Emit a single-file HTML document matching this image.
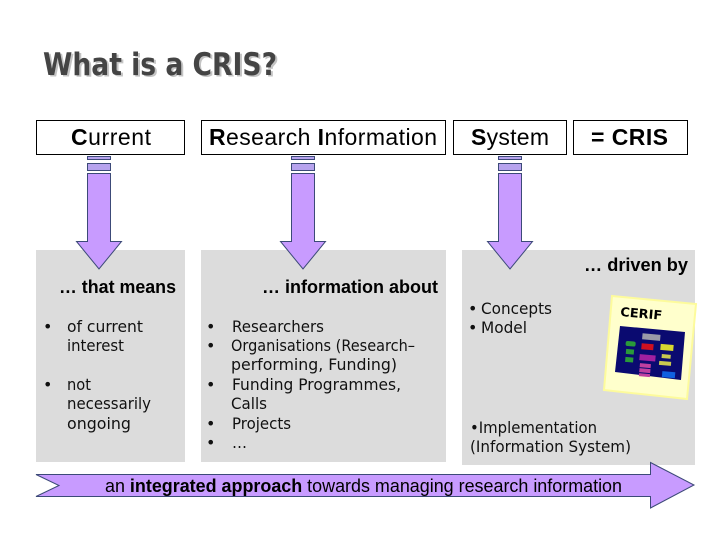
<!DOCTYPE html>
<html lang="en">
<head>
<meta charset="utf-8">
<title>What is a CRIS?</title>
<style>
html,body{margin:0;padding:0;background:#fff;width:720px;height:540px;overflow:hidden}
svg{display:block;filter:blur(.3px)}
.sans{font-family:"Liberation Sans",Arial,sans-serif;fill:#000}
.dv{font-family:"DejaVu Sans",Verdana,sans-serif;font-size:16px;fill:#111}
.box{fill:#fff;stroke:#000;stroke-width:1}
.arr{fill:#c89bff;stroke:#3c4a78;stroke-width:1}
.bar{fill:#b7a3ee;stroke:#3c4a78;stroke-width:1}
.grey{fill:#dcdcdc}
</style>
</head>
<body>
<svg width="720" height="540" viewBox="0 0 720 540" xmlns="http://www.w3.org/2000/svg">
<rect width="720" height="540" fill="#fff"/>

<!-- Title -->
<text x="45" y="76.5" font-family="'DejaVu Sans',Verdana,sans-serif" font-weight="bold" font-size="31" fill="#c4c4c4" textLength="234" lengthAdjust="spacingAndGlyphs">What is a CRIS?</text>
<text x="43" y="75" font-family="'DejaVu Sans',Verdana,sans-serif" font-weight="bold" font-size="31" fill="#444" textLength="234" lengthAdjust="spacingAndGlyphs">What is a CRIS?</text>

<!-- Grey panels -->
<rect class="grey" x="36" y="250" width="149" height="212"/>
<rect class="grey" x="201" y="250" width="245" height="212"/>
<rect class="grey" x="462" y="250" width="233" height="215"/>

<!-- Top boxes -->
<rect class="box" x="36.5" y="120.5" width="148" height="34"/>
<rect class="box" x="201.5" y="120.5" width="244" height="34"/>
<rect class="box" x="453.5" y="120.5" width="113" height="34"/>
<rect class="box" x="573.5" y="120.5" width="114" height="34"/>
<text class="sans" x="71" y="145" font-size="23" textLength="80"><tspan font-weight="bold">C</tspan>urrent</text>
<text class="sans" x="209" y="145" font-size="23" textLength="228"><tspan font-weight="bold">R</tspan>esearch <tspan font-weight="bold">I</tspan>nformation</text>
<text class="sans" x="471" y="145" font-size="23" textLength="78"><tspan font-weight="bold">S</tspan>ystem</text>
<text class="sans" x="591" y="145" font-size="23" font-weight="bold" textLength="77">= CRIS</text>

<!-- Down arrows -->
<g>
<rect class="bar" x="87.5" y="156.5" width="23" height="3"/>
<rect class="bar" x="87.5" y="163.5" width="23" height="7"/>
<polygon class="arr" points="87.5,173.5 110.5,173.5 110.5,241.5 121.5,241.5 99,269 76.5,241.5 87.5,241.5"/>
</g>
<g>
<rect class="bar" x="291.5" y="156.5" width="23" height="3"/>
<rect class="bar" x="291.5" y="163.5" width="23" height="7"/>
<polygon class="arr" points="291.5,173.5 314.5,173.5 314.5,241.5 325.5,241.5 303,269 280.5,241.5 291.5,241.5"/>
</g>
<g>
<rect class="bar" x="498.5" y="156.5" width="23" height="3"/>
<rect class="bar" x="498.5" y="163.5" width="23" height="7"/>
<polygon class="arr" points="498.5,173.5 521.5,173.5 521.5,241.5 532.5,241.5 510,269 487.5,241.5 498.5,241.5"/>
</g>

<!-- Panel headers -->
<text class="sans" x="59" y="293" font-size="18" font-weight="bold" textLength="117" lengthAdjust="spacingAndGlyphs">… that means</text>
<text class="sans" x="262" y="293" font-size="18" font-weight="bold" textLength="176" lengthAdjust="spacingAndGlyphs">… information about</text>
<text class="sans" x="584" y="271" font-size="18" font-weight="bold" textLength="104" lengthAdjust="spacingAndGlyphs">… driven by</text>

<!-- Column 1 -->
<text class="dv" x="43" y="332">•</text>
<text class="dv" x="67" y="332" textLength="76" lengthAdjust="spacingAndGlyphs">of current</text>
<text class="dv" x="67" y="351" textLength="57" lengthAdjust="spacingAndGlyphs">interest</text>
<text class="dv" x="43" y="390">•</text>
<text class="dv" x="67" y="390" textLength="24" lengthAdjust="spacingAndGlyphs">not</text>
<text class="dv" x="67" y="409" textLength="84" lengthAdjust="spacingAndGlyphs">necessarily</text>
<text class="dv" x="67" y="429" textLength="64" lengthAdjust="spacingAndGlyphs">ongoing</text>

<!-- Column 2 -->
<text class="dv" x="206" y="332">•</text>
<text class="dv" x="232" y="332" textLength="92" lengthAdjust="spacingAndGlyphs">Researchers</text>
<text class="dv" x="206" y="351">•</text>
<text class="dv" x="231" y="351" textLength="184" lengthAdjust="spacingAndGlyphs">Organisations (Research–</text>
<text class="dv" x="231" y="370" textLength="166" lengthAdjust="spacingAndGlyphs">performing, Funding)</text>
<text class="dv" x="206" y="390">•</text>
<text class="dv" x="232" y="390" textLength="169" lengthAdjust="spacingAndGlyphs">Funding Programmes,</text>
<text class="dv" x="231" y="409" textLength="36" lengthAdjust="spacingAndGlyphs">Calls</text>
<text class="dv" x="206" y="429">•</text>
<text class="dv" x="232" y="429" textLength="59" lengthAdjust="spacingAndGlyphs">Projects</text>
<text class="dv" x="206" y="448">•</text>
<text class="dv" x="232" y="448" textLength="15" lengthAdjust="spacingAndGlyphs">…</text>

<!-- Column 3 -->
<text class="dv" x="468" y="314">•</text>
<text class="dv" x="481" y="314" textLength="71" lengthAdjust="spacingAndGlyphs">Concepts</text>
<text class="dv" x="468" y="333">•</text>
<text class="dv" x="481" y="333" textLength="46" lengthAdjust="spacingAndGlyphs">Model</text>
<text class="dv" x="470" y="433" textLength="127" lengthAdjust="spacingAndGlyphs">•Implementation</text>
<text class="dv" x="470" y="452" textLength="161" lengthAdjust="spacingAndGlyphs">(Information System)</text>

<!-- CERIF card -->
<polygon points="612,296 696,304 687,399 604,390" fill="#ffffcc" stroke="#fdfb9c" stroke-width="2"/>
<text transform="translate(620,316) rotate(5)" font-family="'DejaVu Sans',Verdana,sans-serif" font-weight="bold" font-size="12.5" fill="#000" textLength="42" lengthAdjust="spacingAndGlyphs">CERIF</text>
<polygon points="620,326 685,332 681,380 615,372" fill="#0a0a70"/>
<g transform="rotate(5 650 352)">
<rect x="641" y="334" width="18" height="6" fill="#9a9aa8"/>
<rect x="625" y="343" width="10" height="5" rx="2" fill="#2a9a3a"/>
<rect x="626" y="351" width="8" height="5" fill="#2a9a3a"/>
<rect x="626" y="359" width="8" height="5" fill="#2a9a3a"/>
<rect x="641" y="344" width="12" height="6" fill="#d01020"/>
<rect x="640" y="355" width="16" height="6" fill="#a020a0"/>
<rect x="641" y="364" width="11" height="4" fill="#c040a0"/>
<rect x="641" y="369" width="11" height="4" fill="#c040a0"/>
<rect x="641" y="374" width="11" height="3" fill="#c040a0"/>
<rect x="660" y="343" width="13" height="6" fill="#d8d830"/>
<rect x="662" y="353" width="9" height="4" fill="#c8c850"/>
<rect x="660" y="360" width="12" height="4" fill="#c8c850"/>
<rect x="664" y="370" width="13" height="6" fill="#1060e0"/>
</g>

<!-- Bottom arrow -->
<polygon class="arr" points="36,474.5 650.5,474.5 650.5,462.5 694,485 650.5,508 650.5,496.5 36,496.5 59,485.5"/>
<text class="sans" x="105" y="492" font-size="18" textLength="517" lengthAdjust="spacingAndGlyphs">an <tspan font-weight="bold">integrated approach</tspan> towards managing research information</text>
</svg>
</body>
</html>
